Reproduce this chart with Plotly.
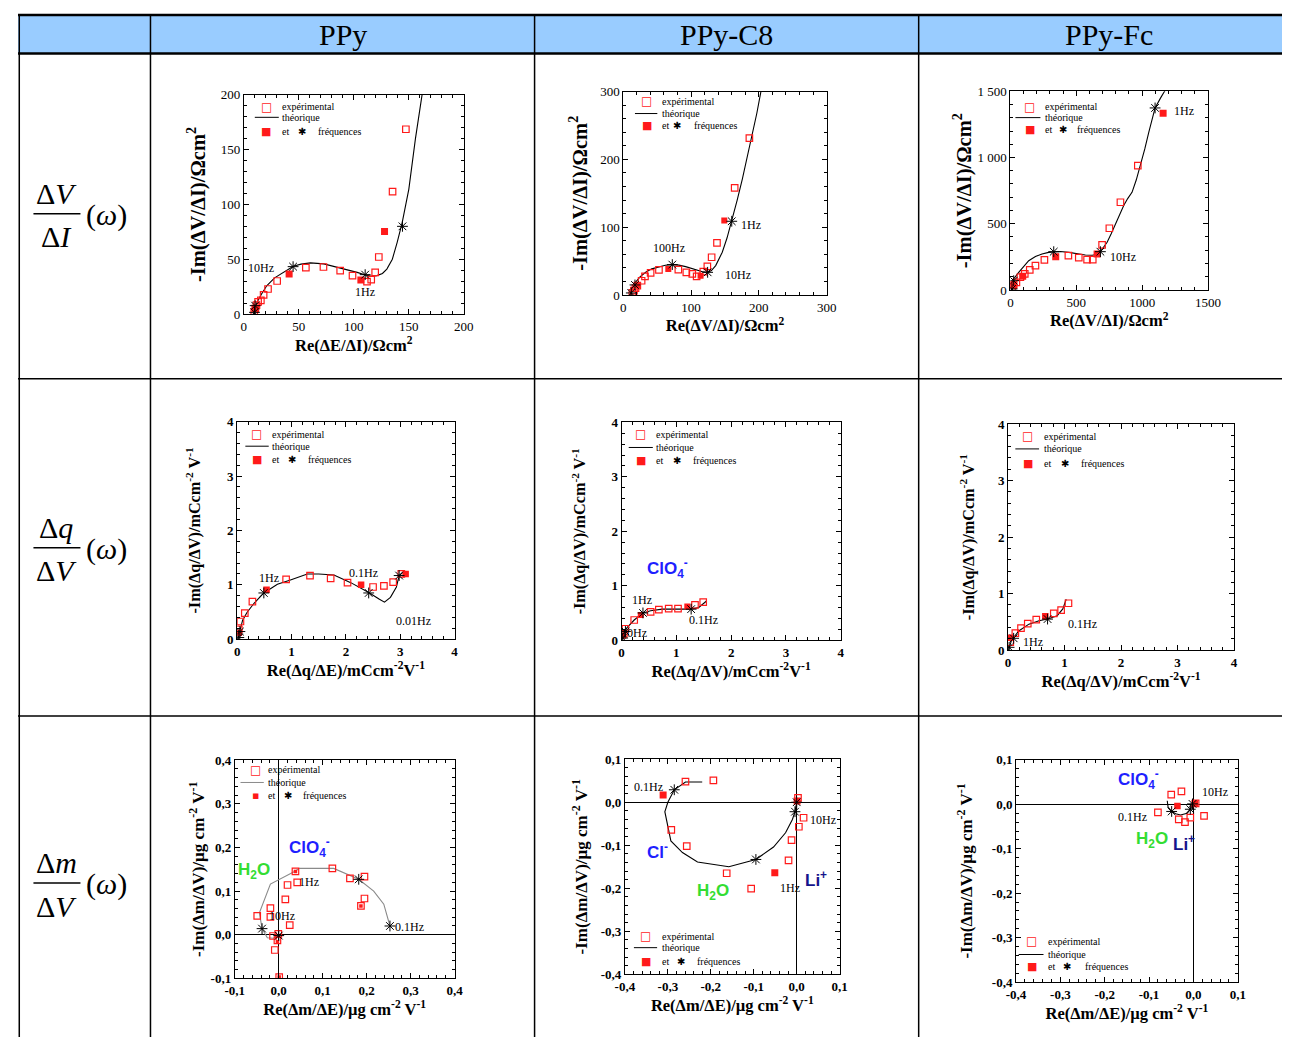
import plotly.graph_objects as go

# figure size and the measured page->picture mapping (picture = S * page + O)
FW, FH = 1296, 1037
BODY = 8
SXP, SYP = 0.982, 0.985
OXP, OYP = 9.7, 6.6
SERIF = "Liberation Serif, Times New Roman, serif"
SANS = "Liberation Sans, Arial, sans-serif"

# ---------------- table text ----------------
col_titles = ["PPy", "PPy-C8", "PPy-Fc"]
row_num = ["Δ<i>V</i>", "Δ<i>q</i>", "Δ<i>m</i>"]
row_den = ["Δ<i>I</i>", "Δ<i>V</i>", "Δ<i>V</i>"]

# ---------------- data: row 1 (ΔV/ΔI) ----------------
p1_exp_x = [9.5, 10.5, 11.5, 13.0, 15.5, 18.0, 22.0, 30.3, 56.4, 72.4, 87.6, 98.8, 112.0, 115.8, 119.4, 122.7, 135.2, 147.3]
p1_exp_y = [2.0, 5.0, 8.0, 11.0, 12.5, 17.4, 22.8, 30.1, 42.3, 42.9, 39.6, 35.0, 29.5, 31.4, 38.0, 52.0, 111.7, 168.6]
p1_fil_x = [10.5, 41.2, 106.4, 127.9]
p1_fil_y = [4.5, 36.5, 31.0, 75.2]
p1_ast_x = [9.7, 10.3, 44.8, 110.3, 144.2]
p1_ast_y = [1.5, 7.6, 43.2, 35.9, 80.0]
p1_th_x = [9, 10, 12, 16, 21, 28, 36, 45, 52, 60.6, 72.7, 80, 88, 96, 103, 110.6, 116, 121, 126, 130, 135, 139.4, 144, 150, 156, 162, 164]
p1_th_y = [0, 4, 10.7, 18, 26, 33, 38, 43.5, 45.5, 46.6, 45.7, 44, 42, 40, 38, 35.6, 34.5, 35, 37, 41, 50, 65.4, 83.7, 114, 160, 200, 215]

p2_exp_x = [13.3, 15.7, 18.0, 20.7, 27.0, 32.0, 40.3, 52.6, 81.2, 93.0, 101.8, 108.2, 118.0, 124.0, 130.3, 138.2, 164.3, 186.0]
p2_exp_y = [3.0, 6.4, 10.0, 13.8, 21.0, 27.5, 32.5, 36.9, 37.4, 33.4, 31.0, 27.5, 34.4, 42.3, 55.6, 76.7, 157.9, 231.2]
p2_fil_x = [21.6, 66.4, 114.0, 149.0]
p2_fil_y = [14.8, 38.4, 28.5, 109.7]
p2_ast_x = [11.8, 17.2, 72.3, 124.4, 160.0]
p2_ast_y = [3.0, 14.8, 44.8, 33.4, 108.7]
p2_th_x = [10, 13, 18, 25, 33, 42, 52.6, 62, 72.3, 82, 92, 102, 111.7, 118, 124.4, 130, 136.3, 146, 153, 160, 168, 175.6, 183, 190, 197, 203]
p2_th_y = [0, 8, 18.7, 27, 33.4, 38.5, 41.8, 43.8, 44.8, 44, 41.8, 38.8, 35.9, 34, 33.4, 36, 43.3, 63, 84, 108.7, 140, 171, 203, 235, 268, 300]

p3_exp_x = [12.6, 25, 45.5, 76, 109, 147, 190, 258, 440, 519, 582, 625, 696, 751, 835, 967]
p3_exp_y = [20, 38, 58, 96, 121, 151, 184, 227, 259, 244, 229, 229, 340, 466, 662, 939]
p3_fil_x = [23, 93.6, 344, 658, 1159]
p3_fil_y = [33, 103, 250, 272, 1334]
p3_ast_x = [12.6, 25, 329, 683, 1098]
p3_ast_y = [7.6, 70, 289, 289, 1374]
p3_th_x = [7.6, 25, 63, 100, 139, 190, 240, 290, 329, 380, 443, 510, 569, 620, 655, 683, 710, 734, 765, 797, 830, 860, 890, 923, 955, 987, 1020, 1050, 1075, 1098, 1140, 1176]
p3_th_y = [0, 83, 133, 180, 221, 252, 272, 284, 289, 290, 284, 272, 264, 262, 268, 289, 322, 360, 425, 498, 570, 637, 690, 737, 830, 939, 1065, 1190, 1290, 1374, 1450, 1510]

# ---------------- data: row 2 (Δq/ΔV) ----------------
p4_exp_x = [0.03, 0.06, 0.14, 0.28, 0.90, 1.34, 1.72, 2.03, 2.50, 2.70, 2.87, 3.02]
p4_exp_y = [0.18, 0.325, 0.48, 0.69, 1.10, 1.17, 1.12, 1.04, 0.96, 0.98, 1.05, 1.20]
p4_fil_x = [0.03, 0.54, 2.28, 3.10]
p4_fil_y = [0.12, 0.91, 1.00, 1.20]
p4_ast_x = [0.03, 0.05, 0.49, 2.42, 2.98]
p4_ast_y = [0.03, 0.14, 0.85, 0.85, 1.17]
p4_th_x = [0.01, 0.05, 0.10, 0.18, 0.31, 0.49, 0.74, 0.98, 1.29, 1.50, 1.78, 2.09, 2.42, 2.61, 2.71, 2.82, 2.93, 2.98, 3.05]
p4_th_y = [0, 0.18, 0.35, 0.49, 0.66, 0.85, 1.01, 1.09, 1.20, 1.20, 1.18, 1.04, 0.86, 0.74, 0.68, 0.77, 0.96, 1.17, 1.23]

p5_exp_x = [0.04, 0.07, 0.23, 0.53, 0.68, 0.86, 1.03, 1.34, 1.49]
p5_exp_y = [0.12, 0.21, 0.37, 0.52, 0.56, 0.58, 0.58, 0.65, 0.70]
p5_fil_x = [0.03, 0.35, 1.20]
p5_fil_y = [0.08, 0.46, 0.62]
p5_ast_x = [0.02, 0.07, 0.39, 1.27]
p5_ast_y = [0.04, 0.16, 0.50, 0.57]
p5_th_x = [0, 0.03, 0.10, 0.23, 0.39, 0.53, 0.74, 1.05, 1.27, 1.41, 1.55]
p5_th_y = [0, 0.11, 0.23, 0.37, 0.50, 0.54, 0.57, 0.57, 0.57, 0.60, 0.72]

p6_exp_x = [0.04, 0.13, 0.23, 0.35, 0.50, 0.81, 0.94, 1.07]
p6_exp_y = [0.14, 0.30, 0.39, 0.47, 0.54, 0.65, 0.71, 0.83]
p6_fil_x = [0.04, 0.66]
p6_fil_y = [0.22, 0.60]
p6_ast_x = [0.02, 0.10, 0.70]
p6_ast_y = [0.05, 0.21, 0.55]
p6_th_x = [0.01, 0.06, 0.19, 0.37, 0.55, 0.70, 0.87, 0.97, 1.03]
p6_th_y = [0, 0.17, 0.34, 0.46, 0.52, 0.55, 0.61, 0.73, 0.90]

# ---------------- data: row 3 (Δm/ΔV) ----------------
p7_exp_x = [-0.049, -0.019, -0.019, -0.013, -0.009, -0.003, 0.001, -0.001, 0.015, 0.020, 0.025, 0.042, 0.038, 0.122, 0.162, 0.195, 0.195, 0.187]
p7_exp_y = [0.043, 0.061, 0.041, -0.003, -0.035, -0.013, -0.097, 0.002, 0.081, 0.114, 0.022, 0.120, 0.145, 0.152, 0.129, 0.133, 0.083, 0.066]
p7_fil_x = [0.038, 0.187, -0.003, 0.001]
p7_fil_y = [0.145, 0.066, -0.016, -0.097]
p7_ast_x = [-0.038, 0.0, 0.182, 0.253]
p7_ast_y = [0.014, -0.002, 0.127, 0.020]
p7_th_x = [-0.001, -0.012, -0.026, -0.038, -0.044, -0.019, 0.038, 0.047, 0.125, 0.148, 0.182, 0.216, 0.239, 0.253]
p7_th_y = [-0.003, -0.008, -0.007, 0.014, 0.050, 0.116, 0.146, 0.152, 0.152, 0.142, 0.127, 0.100, 0.070, 0.020]

p8_exp_x = [-0.259, -0.194, -0.292, -0.256, -0.163, -0.106, -0.019, -0.012, 0.005, 0.016, 0.003]
p8_exp_y = [0.048, 0.051, -0.064, -0.102, -0.165, -0.201, -0.135, -0.088, -0.057, -0.036, 0.010]
p8_fil_x = [-0.311, -0.051, 0.001]
p8_fil_y = [0.017, -0.164, 0.003]
p8_ast_x = [-0.285, -0.095, -0.004, 0.0]
p8_ast_y = [0.029, -0.133, -0.022, 0.0]
p8_th_x = [-0.220, -0.259, -0.285, -0.300, -0.307, -0.293, -0.266, -0.231, -0.158, -0.095, -0.054, -0.026, -0.010, -0.004, 0.0]
p8_th_y = [0.047, 0.047, 0.029, 0.0, -0.022, -0.090, -0.117, -0.139, -0.150, -0.133, -0.104, -0.071, -0.040, -0.022, 0.0]

p9_exp_x = [-0.050, -0.027, -0.080, -0.033, -0.019, -0.007, 0.024, 0.005]
p9_exp_y = [0.022, 0.029, -0.018, -0.034, -0.040, -0.030, -0.026, 0.002]
p9_fil_x = [-0.036, 0.003]
p9_fil_y = [-0.004, 0.002]
p9_ast_x = [-0.049, -0.007, -0.002]
p9_ast_y = [-0.016, -0.011, 0.001]
p9_th_x = [-0.059, -0.057, -0.049, -0.040, -0.029, -0.014, -0.007, -0.002]
p9_th_y = [0.008, -0.007, -0.016, -0.021, -0.024, -0.020, -0.011, 0.0]

# ---------------- tick labels ----------------
t200 = [0, 50, 100, 150, 200]
t200_txt = ["0", "50", "100", "150", "200"]
t300 = [0, 100, 200, 300]
t300_txt = ["0", "100", "200", "300"]
t1500 = [0, 500, 1000, 1500]
t1500_xtxt = ["0", "500", "1000", "1500"]
t1500_ytxt = ["0", "500", "1 000", "1 500"]
t4 = [0, 1, 2, 3, 4]
t4_txt = ["0", "1", "2", "3", "4"]
tpos = [-0.1, 0.0, 0.1, 0.2, 0.3, 0.4]
tpos_txt = ["-0,1", "0,0", "0,1", "0,2", "0,3", "0,4"]
tneg = [-0.4, -0.3, -0.2, -0.1, 0.0, 0.1]
tneg_txt = ["-0,4", "-0,3", "-0,2", "-0,1", "0,0", "0,1"]

RED = "#ff1a1a"
BLUE = "#1f1fff"
GREEN = "#33dd33"
NAVY = "#14148c"

panels = [
    dict(dom=(243.3, 463.3, 94.3, 313.3), xr=[0, 200], yr=[0, 200], xt=(t200, t200_txt), yt=(t200, t200_txt), mn=(10, 10), bold=False, zero=False,
         xtitle="Re(ΔE/ΔI)/Ωcm<sup>2</sup>", ytitle="-Im(ΔV/ΔI)/Ωcm<sup>2</sup>", xs=4, ys=9, yts=20.5,
         ex=p1_exp_x, ey=p1_exp_y, fx=p1_fil_x, fy=p1_fil_y, ax=p1_ast_x, ay=p1_ast_y, tx=p1_th_x, ty=p1_th_y, lc="black", fs=7,
         leg=dict(sq=20.3, tx=32.5, rows=(189, 179.5, 167), l0=10, l1=31.8, ast=53, ftx=65.8),
         labels=[("10Hz", 15.6, 41.7, "center"), ("1Hz", 110.6, 20.4, "center")], ions=[]),
    dict(dom=(622.7, 826, 91, 294.3), xr=[0, 300], yr=[0, 300], xt=(t300, t300_txt), yt=(t300, t300_txt), mn=(20, 20), bold=False, zero=False,
         xtitle="Re(ΔV/ΔI)/Ωcm<sup>2</sup>", ytitle="-Im(ΔV/ΔI)/Ωcm<sup>2</sup>", xs=4, ys=7, yts=20.5,
         ex=p2_exp_x, ey=p2_exp_y, fx=p2_fil_x, fy=p2_fil_y, ax=p2_ast_x, ay=p2_ast_y, tx=p2_th_x, ty=p2_th_y, lc="black", fs=6,
         leg=dict(sq=34.4, tx=53.6, rows=(285.5, 267.6, 250), l0=17.2, l1=50.2, ast=79.7, ftx=101.8),
         labels=[("100Hz", 67.4, 68.9, "center"), ("1Hz", 171, 103, "left"), ("10Hz", 169.7, 29.5, "center")], ions=[]),
    dict(dom=(1009.7, 1207.3, 90.7, 289.3), xr=[0, 1500], yr=[0, 1500], xt=(t1500, t1500_xtxt), yt=(t1500, t1500_ytxt), mn=(100, 100), bold=False, zero=False,
         xtitle="Re(ΔV/ΔI)/Ωcm<sup>2</sup>", ytitle="-Im(ΔV/ΔI)/Ωcm<sup>2</sup>", xs=0, ys=0, yts=20.5,
         ex=p3_exp_x, ey=p3_exp_y, fx=p3_fil_x, fy=p3_fil_y, ax=p3_ast_x, ay=p3_ast_y, tx=p3_th_x, ty=p3_th_y, lc="black", fs=7,
         leg=dict(sq=147, tx=245, rows=(1384, 1301, 1211), l0=38, l1=228, ast=397, ftx=493),
         labels=[("1Hz", 1225, 1354, "left"), ("10Hz", 740, 252, "left")], ions=[]),
    dict(dom=(236.7, 454, 421, 638.3), xr=[0, 4], yr=[0, 4], xt=(t4, t4_txt), yt=(t4, t4_txt), mn=(0.2, 0.2), bold=True, zero=False,
         xtitle="Re(Δq/ΔE)/mCcm<sup>-2</sup>V<sup>-1</sup>", ytitle="-Im(Δq/ΔV)/mCcm<sup>-2</sup> V<sup>-1</sup>", xs=5, ys=22, yts=16.2,
         ex=p4_exp_x, ey=p4_exp_y, fx=p4_fil_x, fy=p4_fil_y, ax=p4_ast_x, ay=p4_ast_y, tx=p4_th_x, ty=p4_th_y, lc="black", fs=6.5,
         leg=dict(sq=0.36, tx=0.6, rows=(3.77, 3.55, 3.31), l0=0.15, l1=0.58, ast=1.01, ftx=1.26),
         labels=[("1Hz", 0.58, 1.13, "center"), ("0.1Hz", 2.33, 1.21, "center"), ("0.01Hz", 3.25, 0.34, "center")], ions=[]),
    dict(dom=(621, 840, 421.7, 639.3), xr=[0, 4], yr=[0, 4], xt=(t4, t4_txt), yt=(t4, t4_txt), mn=(0.2, 0.2), bold=True, zero=False,
         xtitle="Re(Δq/ΔV)/mCcm<sup>-2</sup>V<sup>-1</sup>", ytitle="-Im(Δq/ΔV)/mCcm<sup>-2</sup> V<sup>-1</sup>", xs=4, ys=21, yts=16.2,
         ex=p5_exp_x, ey=p5_exp_y, fx=p5_fil_x, fy=p5_fil_y, ax=p5_ast_x, ay=p5_ast_y, tx=p5_th_x, ty=p5_th_y, lc="black", fs=6,
         leg=dict(sq=0.35, tx=0.6, rows=(3.78, 3.54, 3.31), l0=0.13, l1=0.57, ast=1.02, ftx=1.26),
         labels=[("1Hz", 0.37, 0.74, "center"), ("0.1Hz", 1.5, 0.37, "center"), ("10Hz", 0.22, 0.13, "center")],
         ions=[("ClO<sub>4</sub><sup>-</sup>", 0.84, 1.31, BLUE)]),
    dict(dom=(1007.3, 1233.3, 423.3, 649.3), xr=[0, 4], yr=[0, 4], xt=(t4, t4_txt), yt=(t4, t4_txt), mn=(0.2, 0.2), bold=True, zero=False,
         xtitle="Re(Δq/ΔV)/mCcm<sup>-2</sup>V<sup>-1</sup>", ytitle="-Im(Δq/ΔV)/mCcm<sup>-2</sup> V<sup>-1</sup>", xs=6, ys=19, yts=16.2,
         ex=p6_exp_x, ey=p6_exp_y, fx=p6_fil_x, fy=p6_fil_y, ax=p6_ast_x, ay=p6_ast_y, tx=p6_th_x, ty=p6_th_y, lc="black", fs=6.5,
         leg=dict(sq=0.35, tx=0.61, rows=(3.78, 3.56, 3.31), l0=0.13, l1=0.55, ast=1.0, ftx=1.26),
         labels=[("1Hz", 0.45, 0.15, "center"), ("0.1Hz", 1.31, 0.47, "center")], ions=[]),
    dict(dom=(234.3, 454, 759.3, 977.3), xr=[-0.1, 0.4], yr=[-0.1, 0.4], xt=(tpos, tpos_txt), yt=(tpos, tpos_txt), mn=(0.02, 0.02), bold=True, zero=True,
         xtitle="Re(Δm/ΔE)/µg cm<sup>-2</sup> V<sup>-1</sup>", ytitle="-Im(Δm/ΔV)/µg cm<sup>-2</sup> V<sup>-1</sup>", xs=3, ys=1, yts=17,
         ex=p7_exp_x, ey=p7_exp_y, fx=p7_fil_x, fy=p7_fil_y, ax=p7_ast_x, ay=p7_ast_y, tx=p7_th_x, ty=p7_th_y, lc="#8a8a8a", fs=3.5,
         leg=dict(sq=-0.054, tx=-0.028, rows=(0.378, 0.349, 0.318), l0=-0.087, l1=-0.034, ast=0.022, ftx=0.05),
         labels=[("1Hz", 0.069, 0.12, "center"), ("10Hz", 0.008, 0.044, "center"), ("0.1Hz", 0.298, 0.018, "center")],
         ions=[("ClO<sub>4</sub><sup>-</sup>", 0.069, 0.2, BLUE), ("H<sub>2</sub>O", -0.056, 0.147, GREEN)]),
    dict(dom=(624.3, 839, 758.3, 973.3), xr=[-0.4, 0.1], yr=[-0.4, 0.1], xt=(tneg, tneg_txt), yt=(tneg, tneg_txt), mn=(0.02, 0.02), bold=True, zero=True,
         xtitle="Re(Δm/ΔE)/µg cm<sup>-2</sup> V<sup>-1</sup>", ytitle="-Im(Δm/ΔV)/µg cm<sup>-2</sup> V<sup>-1</sup>", xs=5, ys=8, yts=17,
         ex=p8_exp_x, ey=p8_exp_y, fx=p8_fil_x, fy=p8_fil_y, ax=p8_ast_x, ay=p8_ast_y, tx=p8_th_x, ty=p8_th_y, lc="black", fs=7,
         leg=dict(sq=-0.352, tx=-0.319, rows=(-0.311, -0.338, -0.371), l0=-0.379, l1=-0.325, ast=-0.27, ftx=-0.237),
         labels=[("0.1Hz", -0.346, 0.036, "center"), ("10Hz", 0.061, -0.042, "center"), ("1Hz", -0.016, -0.2, "center")],
         ions=[("Cl<sup>-</sup>", -0.325, -0.113, BLUE), ("H<sub>2</sub>O", -0.194, -0.209, GREEN), ("Li<sup>+</sup>", 0.044, -0.179, NAVY)]),
    dict(dom=(1015.3, 1237, 759, 981), xr=[-0.4, 0.1], yr=[-0.4, 0.1], xt=(tneg, tneg_txt), yt=(tneg, tneg_txt), mn=(0.02, 0.02), bold=True, zero=True,
         xtitle="Re(Δm/ΔE)/µg cm<sup>-2</sup> V<sup>-1</sup>", ytitle="-Im(Δm/ΔV)/µg cm<sup>-2</sup> V<sup>-1</sup>", xs=2, ys=14, yts=17,
         ex=p9_exp_x, ey=p9_exp_y, fx=p9_fil_x, fy=p9_fil_y, ax=p9_ast_x, ay=p9_ast_y, tx=p9_th_x, ty=p9_th_y, lc="black", fs=6.5,
         leg=dict(sq=-0.364, tx=-0.332, rows=(-0.308, -0.338, -0.366), l0=-0.394, l1=-0.338, ast=-0.284, ftx=-0.25),
         labels=[("10Hz", 0.048, 0.028, "center"), ("0.1Hz", -0.138, -0.028, "center")],
         ions=[("ClO<sub>4</sub><sup>-</sup>", -0.123, 0.057, BLUE), ("H<sub>2</sub>O", -0.093, -0.08, GREEN), ("Li<sup>+</sup>", -0.022, -0.086, NAVY)]),
]


def fx(p):
    f = (p - OXP) / SXP - BODY
    return min(1.0, max(0.0, f / FW))


def fy(p):
    f = (p - OYP) / SYP - BODY
    return min(1.0, max(0.0, 1 - f / FH))


def bold(s):
    return "<b>" + s + "</b>"


fig = go.Figure()
annotations = []
shapes = []
layout = {}

for i, P in enumerate(panels, start=1):
    sfx = "" if i == 1 else str(i)
    xa, ya = "x" + sfx, "y" + sfx
    common = dict(xaxis=xa, yaxis=ya, showlegend=False, hoverinfo="skip")
    fig.add_trace(go.Scatter(x=P["tx"], y=P["ty"], mode="lines",
                             line=dict(color=P["lc"], width=1.1), **common))
    fig.add_trace(go.Scatter(x=P["ex"], y=P["ey"], mode="markers",
                             marker=dict(symbol="square-open", size=6.5, color=RED,
                                         line=dict(width=1.2, color=RED)), **common))
    fig.add_trace(go.Scatter(x=P["fx"], y=P["fy"], mode="markers",
                             marker=dict(symbol="square", size=P["fs"], color=RED,
                                         line=dict(width=0)), **common))
    fig.add_trace(go.Scatter(x=P["ax"], y=P["ay"], mode="markers",
                             marker=dict(symbol="asterisk-open", size=9, color="black",
                                         line=dict(width=1, color="black")), **common))

    L, R, T, B = P["dom"]
    tfont = dict(family=SERIF, size=13, color="black")
    xtxt = [bold(t) for t in P["xt"][1]] if P["bold"] else list(P["xt"][1])
    ytxt = [bold(t) for t in P["yt"][1]] if P["bold"] else list(P["yt"][1])
    xtitlefont = dict(family=SERIF, size=16.5, color="black")
    ytitlefont = dict(family=SERIF, size=P["yts"], color="black")
    base = dict(ticks="inside", ticklen=5, tickwidth=1, tickcolor="black",
                showline=True, linecolor="black", linewidth=1, mirror="allticks",
                showgrid=False, zeroline=P["zero"], zerolinecolor="black", zerolinewidth=1.2,
                tickmode="array", tickfont=tfont, fixedrange=True)
    layout["xaxis" + sfx] = dict(base, domain=[fx(L), fx(R)], range=P["xr"], anchor=ya,
                                 tickvals=P["xt"][0], ticktext=xtxt,
                                 minor=dict(ticks="inside", ticklen=3, tickwidth=1, tickcolor="black",
                                            tickmode="linear", tick0=P["xr"][0], dtick=P["mn"][0], showgrid=False),
                                 title=dict(text=bold(P["xtitle"]), font=xtitlefont, standoff=P["xs"]))
    layout["yaxis" + sfx] = dict(base, domain=[fy(B), fy(T)], range=P["yr"], anchor=xa,
                                 tickvals=P["yt"][0], ticktext=ytxt,
                                 minor=dict(ticks="inside", ticklen=3, tickwidth=1, tickcolor="black",
                                            tickmode="linear", tick0=P["yr"][0], dtick=P["mn"][1], showgrid=False),
                                 title=dict(text=bold(P["ytitle"]), font=ytitlefont, standoff=P["ys"]))

    # frequency labels
    for txt, x, y, anc in P["labels"]:
        annotations.append(dict(text=txt, x=x, y=y, xref=xa, yref=ya, showarrow=False,
                                xanchor=anc, yanchor="middle",
                                font=dict(family=SERIF, size=12, color="black")))
    # ion labels
    for txt, x, y, col in P["ions"]:
        annotations.append(dict(text=bold(txt), x=x, y=y, xref=xa, yref=ya, showarrow=False,
                                xanchor="center", yanchor="middle",
                                font=dict(family=SANS, size=17, color=col)))
    # in-plot legend
    lg = P["leg"]
    r1, r2, r3 = lg["rows"]
    lfont = dict(family=SERIF, size=10, color="black")
    annotations += [
        dict(text="□", x=lg["sq"], y=r1, xref=xa, yref=ya, showarrow=False, xanchor="center", yanchor="middle",
             font=dict(family="DejaVu Sans", size=12, color=RED)),
        dict(text="expérimental", x=lg["tx"], y=r1, xref=xa, yref=ya, showarrow=False, xanchor="left", yanchor="middle", font=lfont),
        dict(text="théorique", x=lg["tx"], y=r2, xref=xa, yref=ya, showarrow=False, xanchor="left", yanchor="middle", font=lfont),
        dict(text="■" if P["fs"] > 4 else "▪", x=lg["sq"], y=r3, xref=xa, yref=ya, showarrow=False, xanchor="center", yanchor="middle",
             font=dict(family="DejaVu Sans", size=11, color=RED)),
        dict(text="et", x=lg["tx"], y=r3, xref=xa, yref=ya, showarrow=False, xanchor="left", yanchor="middle", font=lfont),
        dict(text="✱", x=lg["ast"], y=r3, xref=xa, yref=ya, showarrow=False, xanchor="center", yanchor="middle",
             font=dict(family="DejaVu Sans", size=10, color="black")),
        dict(text="fréquences", x=lg["ftx"], y=r3, xref=xa, yref=ya, showarrow=False, xanchor="left", yanchor="middle", font=lfont),
    ]
    shapes.append(dict(type="line", xref=xa, yref=ya, x0=lg["l0"], x1=lg["l1"], y0=r2, y1=r2,
                       line=dict(color=P["lc"], width=1)))

# ---------------- table frame ----------------
shapes.append(dict(type="rect", xref="paper", yref="paper", x0=fx(10), x1=1.0, y0=fy(53), y1=fy(14),
                   fillcolor="#99ccff", line=dict(width=0), layer="below"))
for yy, wd in [(14, 2.5), (53, 2.5), (378, 1.5), (715, 1.5)]:
    shapes.append(dict(type="line", xref="paper", yref="paper", x0=fx(10), x1=1.0, y0=fy(yy), y1=fy(yy),
                       line=dict(color="black", width=wd)))
for xx in [10, 150, 534, 918]:
    shapes.append(dict(type="line", xref="paper", yref="paper", x0=max(fx(xx), 0.001), x1=max(fx(xx), 0.001), y0=fy(14), y1=0,
                       line=dict(color="black", width=1.5)))

for txt, cx in zip(col_titles, [342, 726, 1108]):
    annotations.append(dict(text=txt, x=fx(cx), y=fy(34), xref="paper", yref="paper", showarrow=False,
                            xanchor="center", yanchor="middle", font=dict(family=SERIF, size=30, color="black")))

for num, den, ybar in zip(row_num, row_den, [213, 547, 882]):
    annotations.append(dict(text=num, x=fx(56), y=fy(ybar - 20), xref="paper", yref="paper", showarrow=False,
                            xanchor="center", yanchor="middle", font=dict(family=SERIF, size=30, color="black")))
    annotations.append(dict(text=den, x=fx(56), y=fy(ybar + 23), xref="paper", yref="paper", showarrow=False,
                            xanchor="center", yanchor="middle", font=dict(family=SERIF, size=30, color="black")))
    annotations.append(dict(text="(<i>ω</i>)", x=fx(106), y=fy(ybar + 1), xref="paper", yref="paper", showarrow=False,
                            xanchor="center", yanchor="middle", font=dict(family=SERIF, size=30, color="black")))
    shapes.append(dict(type="line", xref="paper", yref="paper", x0=fx(33), x1=fx(80), y0=fy(ybar), y1=fy(ybar),
                       line=dict(color="black", width=1.5)))

fig.update_layout(
    width=FW, height=FH, margin=dict(l=0, r=0, t=0, b=0),
    paper_bgcolor="white", plot_bgcolor="white",
    font=dict(family=SERIF, color="black"),
    showlegend=False, annotations=annotations, shapes=shapes, **layout)

fig.write_html("out.html")
